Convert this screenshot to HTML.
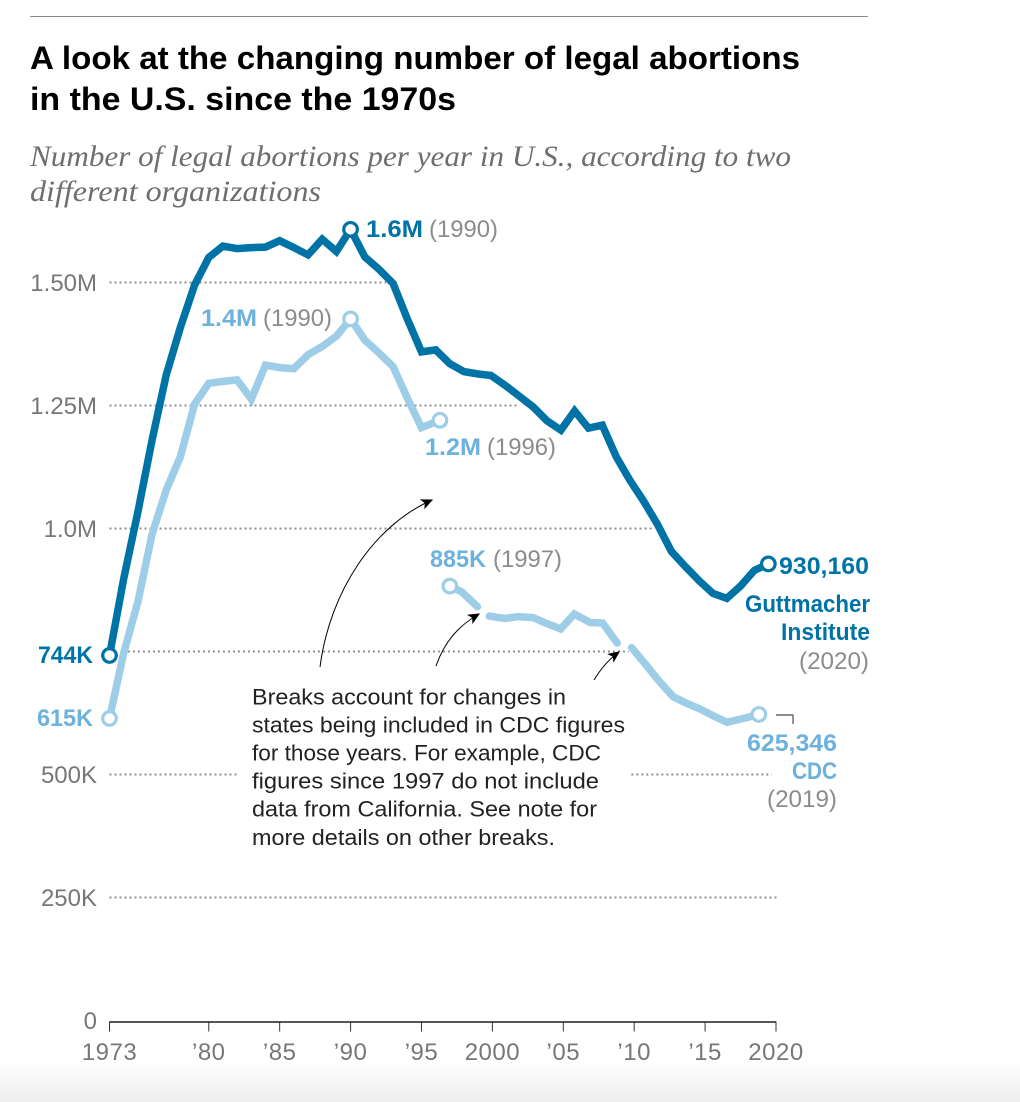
<!DOCTYPE html>
<html lang="en">
<head>
<meta charset="utf-8">
<title>Legal abortions in the U.S. since the 1970s</title>
<style>
html,body{margin:0;padding:0;background:#fff;}
body{width:1020px;height:1102px;overflow:hidden;position:relative;}
#footer-fade{position:absolute;left:0;top:1060px;width:1020px;height:42px;background:linear-gradient(#ffffff,#eeeeee);}
svg{position:absolute;left:0;top:0;}
text{font-family:"Liberation Sans",sans-serif;}
.title{font-size:32px;font-weight:bold;fill:#000;}
.sub{font-family:"Liberation Serif",serif;font-style:italic;font-size:30px;fill:#6e6e6e;}
.tick{font-size:24px;fill:#77777a;}
.dark{font-size:24px;font-weight:bold;fill:#0073a6;}
.light{font-size:24px;font-weight:bold;fill:#6cb2dc;}
.yr{font-size:24px;fill:#8c8c8c;}
.note{font-size:22px;fill:#222;}
</style>
</head>
<body>
<div id="footer-fade"></div>
<svg id="chart" width="1020" height="1102" viewBox="0 0 1020 1102" xmlns="http://www.w3.org/2000/svg">
  <defs>
    <marker id="arrowhead" viewBox="0 0 10 10" refX="9" refY="5" markerWidth="12" markerHeight="12" markerUnits="userSpaceOnUse" orient="auto">
      <path d="M0,0.5 L10,5 L0,9.5 L2.5,5 Z" fill="#000"></path>
    </marker>
  </defs>
  <line x1="30" y1="16.5" x2="868" y2="16.5" stroke="#8a8a8a" stroke-width="1"></line>
  <text class="title" x="30" y="69" textLength="770" lengthAdjust="spacingAndGlyphs">A look at the changing number of legal abortions</text>
  <text class="title" x="30" y="110" textLength="426" lengthAdjust="spacingAndGlyphs">in the U.S. since the 1970s</text>
  <text class="sub" x="30" y="166" textLength="761" lengthAdjust="spacingAndGlyphs">Number of legal abortions per year in U.S., according to two</text>
  <text class="sub" x="30" y="201" textLength="291" lengthAdjust="spacingAndGlyphs">different organizations</text>

  <g id="grid"></g>
  <g id="y-ticks"></g>
  <g id="x-axis"></g>
  <g id="series"></g>

  <path d="M320,667 C330,590 375,525 432,500" fill="none" stroke="#000" stroke-width="1" marker-end="url(#arrowhead)"></path>
  <path d="M436,666 C445,640 460,625 479,614" fill="none" stroke="#000" stroke-width="1" marker-end="url(#arrowhead)"></path>
  <path d="M594,680 C600,670 608,660 619,652" fill="none" stroke="#000" stroke-width="1" marker-end="url(#arrowhead)"></path>

  <g>
    <text class="note" x="252" y="704.5" textLength="314" lengthAdjust="spacingAndGlyphs">Breaks account for changes in</text>
    <text class="note" x="252" y="732.5" textLength="373" lengthAdjust="spacingAndGlyphs">states being included in CDC figures</text>
    <text class="note" x="252" y="760.5" textLength="349" lengthAdjust="spacingAndGlyphs">for those years. For example, CDC</text>
    <text class="note" x="252" y="788.5" textLength="347" lengthAdjust="spacingAndGlyphs">figures since 1997 do not include</text>
    <text class="note" x="252" y="816.5" textLength="345" lengthAdjust="spacingAndGlyphs">data from California. See note for</text>
    <text class="note" x="252" y="845" textLength="303" lengthAdjust="spacingAndGlyphs">more details on other breaks.</text>
  </g>

  <g>
    <text class="dark" x="366" y="237" textLength="57" lengthAdjust="spacingAndGlyphs">1.6M</text>
    <text class="yr" x="429" y="237" textLength="69" lengthAdjust="spacingAndGlyphs">(1990)</text>
    <text class="light" x="201" y="326" textLength="56" lengthAdjust="spacingAndGlyphs">1.4M</text>
    <text class="yr" x="263" y="326" textLength="69" lengthAdjust="spacingAndGlyphs">(1990)</text>
    <text class="light" x="425" y="455" textLength="56" lengthAdjust="spacingAndGlyphs">1.2M</text>
    <text class="yr" x="487" y="455" textLength="69" lengthAdjust="spacingAndGlyphs">(1996)</text>
    <text class="light" x="430" y="567" textLength="56" lengthAdjust="spacingAndGlyphs">885K</text>
    <text class="yr" x="493" y="567" textLength="69" lengthAdjust="spacingAndGlyphs">(1997)</text>
    <text class="dark" x="38" y="663" textLength="55" lengthAdjust="spacingAndGlyphs">744K</text>
    <text class="light" x="37" y="726" textLength="56" lengthAdjust="spacingAndGlyphs">615K</text>
    <text class="dark" x="779" y="574" textLength="90" lengthAdjust="spacingAndGlyphs">930,160</text>
    <text class="dark" x="745" y="612" textLength="125" lengthAdjust="spacingAndGlyphs">Guttmacher</text>
    <text class="dark" x="781" y="640" textLength="89" lengthAdjust="spacingAndGlyphs">Institute</text>
    <text class="yr" x="799" y="669" textLength="70" lengthAdjust="spacingAndGlyphs">(2020)</text>
    <text class="light" x="747" y="751" textLength="90" lengthAdjust="spacingAndGlyphs">625,346</text>
    <text class="light" x="792" y="779" textLength="45" lengthAdjust="spacingAndGlyphs">CDC</text>
    <text class="yr" x="767" y="807" textLength="70" lengthAdjust="spacingAndGlyphs">(2019)</text>
    <path d="M776,715 H793 V724" fill="none" stroke="#666" stroke-width="1.4"></path>
  </g>
</svg>
<script>
// Tick data
const yTickValues = [0, 250000, 500000, 750000, 1000000, 1250000, 1500000];
const yTickLabels = ['0', '250K', '500K', '', '1.0M', '1.25M', '1.50M'];
const xTickYears = [1973, 1980, 1985, 1990, 1995, 2000, 2005, 2010, 2015, 2020];
const xTickLabels = ['1973', '\u201980', '\u201985', '\u201990', '\u201995', '2000', '\u201905', '\u201910', '\u201915', '2020'];

// Guttmacher Institute series (time positions as plotted in the source)
const guttYears = [1973,1974,1975,1976,1977,1978,1979,1980,1981,1982,1983,1984,1985,1986,1987,1988,1989,1990,1991,1992,1993,1994,1995,1996,1997,1998,1999,1999.9,2000.9,2001.9,2002.88,2003.85,2004.83,2005.8,2006.78,2007.75,2008.73,2009.7,2010.68,2011.65,2012.63,2013.6,2014.58,2015.55,2016.53,2017.5,2018.48,2019.46];
const guttValues = [742,898,1034,1179,1312,1409,1495,1551,1574,1569,1571,1572,1585,1571,1556,1588,1563,1608,1552,1527,1498,1426,1359,1363,1335,1319,1314,1311,1291,1269,1247,1219,1200,1239,1204,1210,1146,1098,1055,1008,953,923,894,868,858,883,915,928];

// CDC series, in four pieces separated by reporting breaks
const cdcYearsA = [1973,1974,1975,1976,1977,1978,1979,1980,1981,1982,1983,1984,1985,1986,1987,1988,1989,1990,1991,1992,1993,1994,1995,1996.3];
const cdcValuesA = [614,747,851,988,1078,1146,1253,1295,1299,1302,1263,1332,1327,1325,1353,1370,1391,1426,1383,1357,1329,1265,1205,1220];
const cdcYearsB = [1997,1997.85,1998.94];
const cdcValuesB = [883,871,841];
const cdcYearsC = [1999.78,2000.9,2001.8,2002.88,2003.83,2004.82,2005.78,2006.9,2007.78,2008.8];
const cdcValuesC = [822,817,821,819,807,796,826,809,808,767];
const cdcYearsD = [2009.82,2010.8,2011.75,2012.76,2013.68,2014.66,2015.6,2016.55,2017.72,2018.79];
const cdcValuesD = [758,724,690,658,645,633,619,606,614,622];

const DARK = '#0073a6';
const LIGHT = '#9ecde8';
const SVG_NS = 'http://www.w3.org/2000/svg';

function xScale(year) { return 109.5 + (year - 1973) * (776 - 109.5) / 47; }
function yScale(value) { return 1020.5 - value * 123 / 250000; }
function yScaleK(k) { return yScale(k * 1000); }
function make(tag, parent) {
  const el = document.createElementNS(SVG_NS, tag);
  parent.appendChild(el);
  return el;
}

// Gridlines: each segment spans [fromYear, toYear] at a value
const gridLayer = document.getElementById('grid');
function gridSegment(value, fromYear, toYear) {
  const ln = make('line', gridLayer);
  
  
  ln.setAttribute('x1', xScale(fromYear));
  ln.setAttribute('x2', xScale(toYear));
  ln.setAttribute('y1', yScale(value));
  ln.setAttribute('y2', yScale(value));
  ln.setAttribute('stroke', '#8f8f8f');
  ln.setAttribute('stroke-width', '2');
  ln.setAttribute('stroke-dasharray', '2 3');
}
gridSegment(1500000, 1973, 1992.5);
gridSegment(1250000, 1973, 2001.9);
gridSegment(1000000, 1973, 2011.3);
gridSegment(750000, 1974.3, 2009.6);
gridSegment(500000, 1973, 1982.1);
gridSegment(500000, 2009.8, 2019.7);
gridSegment(250000, 1973, 2020.1);

// Y tick labels
const yLayer = document.getElementById('y-ticks');
yTickValues.forEach(function (v, i) {
  if (!yTickLabels[i]) return;
  const t = make('text', yLayer);
  
  
  t.setAttribute('class', 'tick');
  t.setAttribute('x', 97);
  t.setAttribute('y', yScale(v) + 8.5);
  t.setAttribute('text-anchor', 'end');
  t.textContent = yTickLabels[i];
});

// X axis
const xLayer = document.getElementById('x-axis');
const baseline = make('line', xLayer);


baseline.setAttribute('x1', xScale(1973));
baseline.setAttribute('x2', xScale(2020));
baseline.setAttribute('y1', yScale(0) + 1.5);
baseline.setAttribute('y2', yScale(0) + 1.5);
baseline.setAttribute('stroke', '#555');
baseline.setAttribute('stroke-width', '2');
xTickYears.forEach(function (yr, i) {
  const tk = make('line', xLayer);
  
  
  tk.setAttribute('x1', xScale(yr));
  tk.setAttribute('x2', xScale(yr));
  tk.setAttribute('y1', yScale(0) + 1);
  tk.setAttribute('y2', yScale(0) + 11);
  tk.setAttribute('stroke', '#333');
  tk.setAttribute('stroke-width', '1');
  const t = make('text', xLayer);
  
  
  t.setAttribute('class', 'tick');
  t.setAttribute('x', xScale(yr));
  t.setAttribute('y', 1060);
  t.setAttribute('text-anchor', 'middle');
  t.style.letterSpacing = '0.5px';
  t.textContent = xTickLabels[i];
});

// Series
const seriesLayer = document.getElementById('series');
function drawLine(years, values, color, name) {
  const p = make('polyline', seriesLayer);
  
  
  p.setAttribute('points', years.map(function (y, i) {
    return xScale(y).toFixed(1) + ',' + yScaleK(values[i]).toFixed(1);
  }).join(' '));
  p.setAttribute('fill', 'none');
  p.setAttribute('stroke', color);
  p.setAttribute('stroke-width', '7.5');
  p.setAttribute('stroke-linejoin', 'miter');
  p.setAttribute('stroke-linecap', 'round');
}
function drawPoint(year, value, color, name) {
  const c = make('circle', seriesLayer);
  
  
  c.setAttribute('cx', xScale(year));
  c.setAttribute('cy', yScaleK(value));
  c.setAttribute('r', '6.8');
  c.setAttribute('fill', '#fff');
  c.setAttribute('stroke', color);
  c.setAttribute('stroke-width', '3.2');
}
drawLine(cdcYearsA, cdcValuesA, LIGHT, 'cdc-line-1973-1996');
drawLine(cdcYearsB, cdcValuesB, LIGHT, 'cdc-line-1997-1999');
drawLine(cdcYearsC, cdcValuesC, LIGHT, 'cdc-line-2000-2009');
drawLine(cdcYearsD, cdcValuesD, LIGHT, 'cdc-line-2010-2019');
drawLine(guttYears, guttValues, DARK, 'guttmacher-line');

const guttPeak = guttValues.indexOf(Math.max.apply(null, guttValues));
drawPoint(guttYears[0], guttValues[0], DARK, 'guttmacher-point-1973');
drawPoint(guttYears[guttPeak], guttValues[guttPeak], DARK, 'guttmacher-point-peak');
drawPoint(guttYears[guttYears.length - 1], guttValues[guttValues.length - 1], DARK, 'guttmacher-point-2020');
const cdcPeak = cdcValuesA.indexOf(Math.max.apply(null, cdcValuesA));
drawPoint(cdcYearsA[0], cdcValuesA[0], LIGHT, 'cdc-point-1973');
drawPoint(cdcYearsA[cdcPeak], cdcValuesA[cdcPeak], LIGHT, 'cdc-point-peak');
drawPoint(cdcYearsA[cdcYearsA.length - 1], cdcValuesA[cdcValuesA.length - 1], LIGHT, 'cdc-point-1996');
drawPoint(cdcYearsB[0], cdcValuesB[0], LIGHT, 'cdc-point-1997');
drawPoint(cdcYearsD[cdcYearsD.length - 1], cdcValuesD[cdcValuesD.length - 1], LIGHT, 'cdc-point-2019');
</script>
</body>
</html>
